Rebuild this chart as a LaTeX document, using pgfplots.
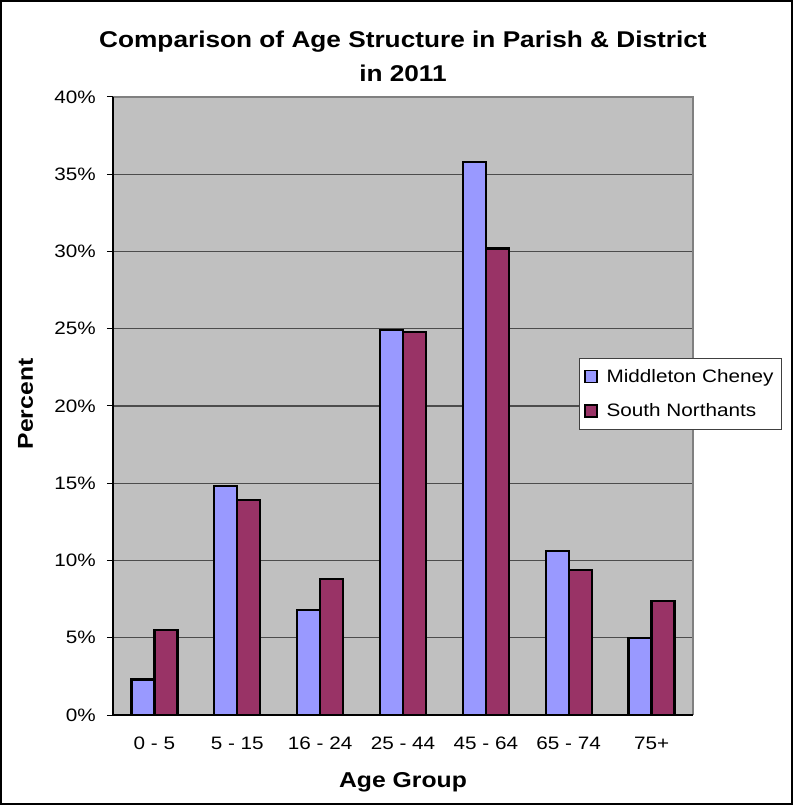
\documentclass[border=0pt]{standalone}
\usepackage{pgfplots}
\pgfplotsset{compat=1.18}
\usepackage{fontspec}
\setmainfont{Liberation Sans}[FakeStretch=1.15]
\definecolor{mcblue}{HTML}{9999FF}
\definecolor{snplum}{HTML}{993366}
\definecolor{plotgrey}{HTML}{C0C0C0}
\begin{document}
\begin{tikzpicture}
\begin{axis}[
  at={(0,0)}, anchor=south west,
  scale only axis,
  width=580bp, height=618bp,
  ybar=0pt, bar width=23bp,
  xmin=-0.5, xmax=6.5,
  ymin=0, ymax=40,
  xtick={0,...,6},
  xticklabels={0 - 5, 5 - 15, 16 - 24, 25 - 44, 45 - 64, 65 - 74, 75+},
  extra x ticks={-0.5,0.5,...,6.5},
  extra x tick labels={},
  extra x tick style={major tick length=6bp, tick style={black, line width=1bp}},
  x tick style={draw=none},
  xtick pos=bottom, ytick pos=left,
  ytick={0,5,...,40},
  yticklabel={\pgfmathprintnumber{\tick}\%},
  /pgf/number format/assume math mode=true,
  tick align=outside,
  major tick length=6bp,
  ytick style={black, line width=1bp},
  ymajorgrids,
  major grid style={black!70, line width=1.2bp},
  axis background/.style={fill=plotgrey},
  axis line style={draw=none},
  ticklabel style={font=\fontsize{18bp}{21bp}\selectfont, inner sep=0pt},
  xticklabel style={yshift=-16bp},
  yticklabel style={xshift=-11bp},
  legend style={
    at={(0.803,0.578)}, anchor=north west,
    draw=black!75, line width=1bp, fill=white,
    font=\fontsize{18bp}{21bp}\selectfont,
    inner xsep=5bp, inner ysep=8bp,
    row sep=14bp,
    nodes={inner sep=3bp},
    /tikz/every odd column/.append style={column sep=6bp},
  },
  legend cell align=left,
  legend image code/.code={
    \draw[#1, draw=black, line width=1.4bp] (0bp,-6bp) rectangle (12bp,6bp);
  },
  clip=false,
]
\addplot[fill=mcblue, draw=black, line width=2.2bp] coordinates {(0,2.3) (1,14.8) (2,6.8) (3,24.9) (4,35.8) (5,10.6) (6,5.0)};
\addplot[fill=snplum, draw=black, line width=2.2bp] coordinates {(0,5.5) (1,13.9) (2,8.8) (3,24.8) (4,30.2) (5,9.4) (6,7.4)};
\legend{Middleton Cheney, South Northants}
% plot-area border and axis lines
\draw[black!50, line width=1.2bp] (rel axis cs:0,1) -- (rel axis cs:1,1) -- (rel axis cs:1,0);
\draw[black, line width=1.2bp] (rel axis cs:0,1) -- (rel axis cs:0,0) -- (rel axis cs:1,0);
\end{axis}
\node[anchor=base, font=\bfseries\fontsize{22.8bp}{26bp}\selectfont] at (290bp,667bp) {Comparison of Age Structure in Parish \& District};
\node[anchor=base, font=\bfseries\fontsize{22.8bp}{26bp}\selectfont] at (290bp,633bp) {in 2011};
\node[anchor=base, font=\bfseries\fontsize{21.5bp}{24bp}\selectfont] at (290bp,-72bp) {Age Group};
\node[anchor=base, rotate=90, font=\bfseries\fontsize{21.5bp}{24bp}\selectfont] at (-80bp,311bp) {Percent};
\draw[black, line width=2bp] (-112bp,-89bp) rectangle (679bp,714bp);
\end{tikzpicture}
\end{document}
